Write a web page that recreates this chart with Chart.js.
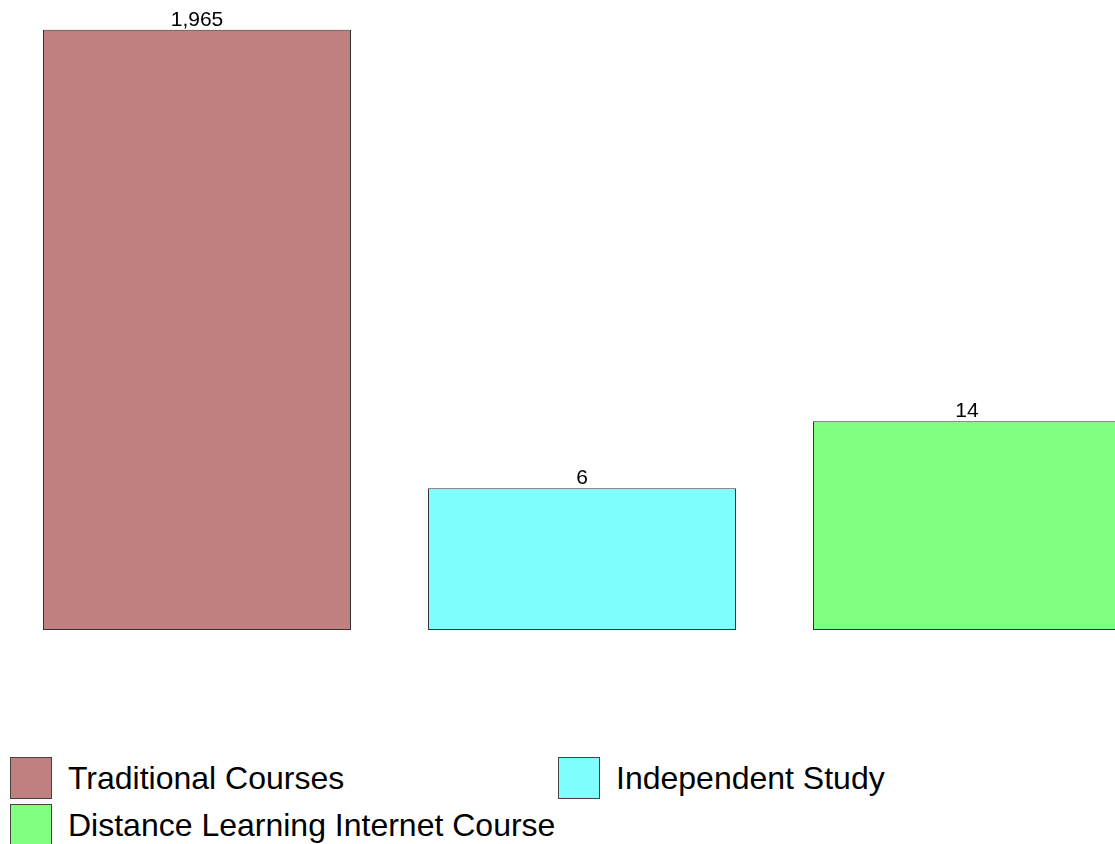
<!DOCTYPE html>
<html>
<head>
<meta charset="utf-8">
<script src="https://cdn.jsdelivr.net/npm/chart.js@4"></script>
<style>
  body { margin: 0; background: #fff; overflow: hidden; width: 1115px; height: 844px; position: relative; font-family: "Liberation Sans", Arial, sans-serif; }
  #wrap { position: absolute; left: 0; top: 0; width: 1164px; height: 640px; }
  #legend { position: absolute; left: 10px; top: 757px; display: grid; grid-template-columns: 548px 548px; grid-auto-rows: 47px; }
  .item { display: flex; align-items: center; height: 42px; }
  .box { width: 40px; height: 40px; border: 1px solid #444; margin-right: 16px; box-sizing: content-box; }
  .txt { font-size: 32px; color: #000; white-space: nowrap; }
</style>
</head>
<body>
<div id="wrap"><canvas id="myChart" width="1164" height="640"></canvas></div>
<div id="legend"></div>
<script>
const categories = ["Traditional Courses", "Independent Study", "Distance Learning Internet Course"];
const counts = [1965, 6, 14];
const colors = ["#C08080", "#80FFFF", "#80FF80"];

// value labels above the bars
const valueLabels = {
  id: 'valueLabels',
  afterDatasetsDraw(chart) {
    const ctx = chart.ctx;
    const meta = chart.getDatasetMeta(0);
    ctx.save();
    ctx.font = '21px "Liberation Sans", Arial, sans-serif';
    ctx.fillStyle = '#000';
    ctx.textAlign = 'center';
    ctx.textBaseline = 'alphabetic';
    meta.data.forEach((bar, i) => {
      ctx.fillText(counts[i].toLocaleString('en-US'), bar.x, bar.y - 4);
    });
    ctx.restore();
  }
};

const myChart = new Chart(document.getElementById('myChart'), {
  type: 'bar',
  data: {
    labels: categories,
    datasets: [{
      data: counts,
      backgroundColor: colors,
      borderColor: '#333',
      borderWidth: 1,
      borderSkipped: false,
      barPercentage: 0.8,
      categoryPercentage: 1.0
    }]
  },
  options: {
    responsive: false,
    animation: false,
    layout: { padding: { left: 4.5, right: 4.5, top: 14, bottom: 10 } },
    plugins: { legend: { display: false }, tooltip: { enabled: false } },
    scales: {
      x: { display: false },
      y: { type: 'logarithmic', min: 1, max: 2400, display: false }
    }
  },
  plugins: [valueLabels]
});

const legend = document.getElementById('legend');
categories.forEach((c, i) => {
  const item = document.createElement('div');
  item.className = 'item';
  item.innerHTML = '<div class="box" style="background:' + colors[i] + '"></div><span class="txt">' + c + '</span>';
  legend.appendChild(item);
});
</script>
</body>
</html>
